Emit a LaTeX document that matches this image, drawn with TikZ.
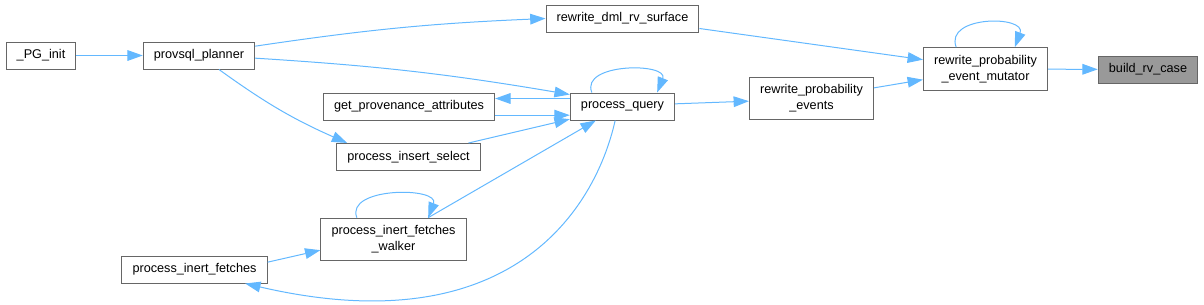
\documentclass[tikz,border=0pt]{standalone}
\usepackage{fontspec}
\setmainfont{Liberation Sans}
\usetikzlibrary{arrows.meta}

\definecolor{edgeblue}{HTML}{63B8FF}
\definecolor{boxgray}{HTML}{666666}
\definecolor{hlfill}{HTML}{999999}

\begin{document}
\begin{tikzpicture}[x=0.75pt, y=-0.75pt, >={Triangle[length=11.5pt,width=8pt]},
    fn/.style={draw=boxgray, line width=0.75pt, fill=white, minimum height=20.25pt,
      inner xsep=8pt, inner ysep=2pt, align=center, font=\fontsize{9.5}{12}\selectfont},
    fn2/.style={fn, minimum height=32pt},
    hl/.style={fn, fill=hlfill},
    edge/.style={->, draw=edgeblue, line width=0.75pt}]
    \useasboundingbox (0,0) rectangle (1204,304);

    % nodes
    \node[fn] (pginit)  at (41,55.5)    {\_PG\_init};
    \node[fn] (planner) at (199,55.5)   {provsql\_planner};
    \node[fn] (dmlsurf) at (622.5,18.5) {rewrite\_dml\_rv\_surface};
    \node[fn] (getprov) at (409,106.5)  {get\_provenance\_attributes};
    \node[fn] (query)   at (622.5,106.5) {process\_query};
    \node[fn] (insel)   at (408.5,157)  {process\_insert\_select};
    \node[fn2] (walker) at (393.5,239.5) {process\_inert\_fetches\\\_walker};
    \node[fn] (inert)   at (194.5,269.5) {process\_inert\_fetches};
    \node[fn2] (events) at (811.5,98.5) {rewrite\_probability\\\_events};
    \node[fn2] (mutator) at (985.5,69)  {rewrite\_probability\\\_event\_mutator};
    \node[hl] (build)   at (1148,69.5)  {build\_rv\_case};

    % edges
    \draw[edge] (pginit) -- (planner);
    \draw[edge] ([yshift=7pt]planner.east) to[bend left=3] (dmlsurf.west);
    \draw[edge] ([yshift=-2pt]planner.east) to[bend left=3] ([yshift=9pt]query.west);
    \draw[edge] ([xshift=15pt]planner.south) to[bend right=6] ([xshift=-46pt]insel.north);
    \draw[edge] ([yshift=6pt]query.west) -- ([yshift=6pt]getprov.east);
    \draw[edge] ([yshift=-6.5pt]getprov.east) -- ([yshift=-6.5pt]query.west);
    \draw[edge] ([xshift=45pt]insel.north) -- ([yshift=1pt]query.south west);
    \draw[edge] ([xshift=-23pt]query.north) .. controls +(-12,-30) and +(12,-30) .. ([xshift=26pt]query.north);
    \draw[edge] ([yshift=2pt]query.east) -- ([yshift=-2pt]events.west);
    \draw[edge] ([xshift=26pt]walker.north) -- ([xshift=-20pt]query.south);
    \draw[edge] ([xshift=-5.5pt]query.south) .. controls (595,210) and (510,345) .. ([xshift=38pt]inert.south);
    \draw[edge] ([yshift=5.5pt]inert.east) -- ([yshift=-8pt]walker.west);
    \draw[edge] ([xshift=-27.5pt]walker.north) .. controls +(-12,-31) and +(12,-31) .. ([xshift=26pt]walker.north);
    \draw[edge] ([yshift=-7.5pt]dmlsurf.east) -- ([yshift=7pt]mutator.west);
    \draw[edge] ([yshift=8pt]events.east) -- ([yshift=-8pt]mutator.west);
    \draw[edge] ([xshift=-22pt]mutator.north) .. controls +(-12,-32) and +(12,-32) .. ([xshift=22pt]mutator.north);
    \draw[edge] (mutator) -- (build);
\end{tikzpicture}
\end{document}
